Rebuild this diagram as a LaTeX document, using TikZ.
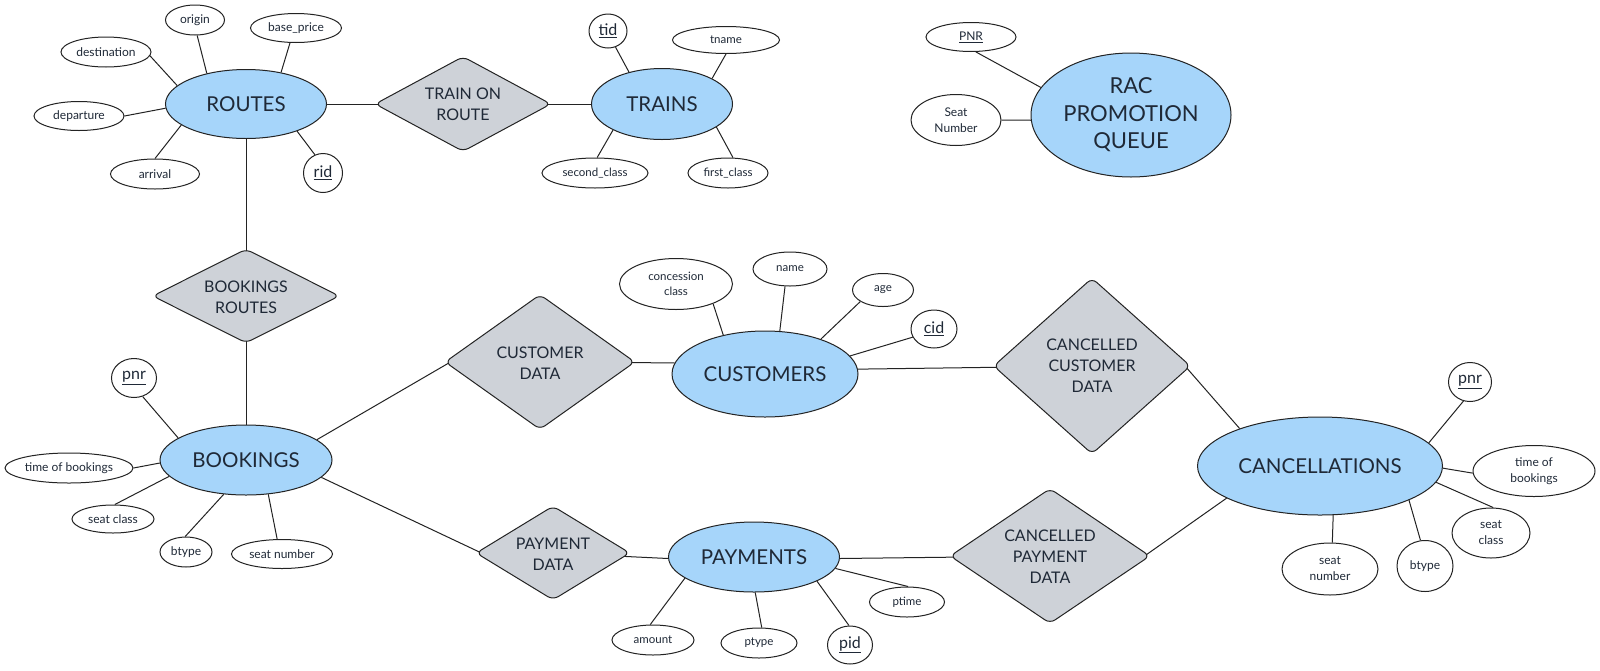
\documentclass[tikz,border=0pt]{standalone}
\usepackage{fontspec}
\setmainfont{Lato}
\usetikzlibrary{shapes.geometric,backgrounds}
\definecolor{entblue}{RGB}{166,213,250}
\definecolor{relgray}{RGB}{206,210,216}
\definecolor{txt}{RGB}{31,41,55}
\definecolor{edge}{RGB}{35,35,35}
\tikzset{
  sz/.style 2 args={minimum width=#1pt, minimum height=#2pt},
  ent/.style={ellipse, draw=edge, line width=1pt, fill=entblue, inner sep=0pt, text=txt, align=center, font=\fontsize{20.5}{24}\selectfont},
  rel/.style={diamond, draw=edge, line width=1pt, fill=relgray, inner sep=0pt, rounded corners=6pt},
  reltext/.style={align=center, text=txt, inner sep=0pt, font=\fontsize{16}{21}\selectfont},
  attr/.style={ellipse, draw=edge, line width=1pt, fill=white, inner sep=0pt, text=txt, align=center, font=\fontsize{11.5}{15}\selectfont},
  attrb/.style={attr, font=\fontsize{12}{16}\selectfont},
  keyattr/.style={attr, font=\fontsize{16}{18}\selectfont},
  conn/.style={draw=edge, line width=1pt},
}
\begin{document}
\begin{tikzpicture}[x=1pt,y=-1pt]
\begin{scope}[on background layer]
\fill[white] (0,0) rectangle (1600,670);
\end{scope}
\useasboundingbox (0,0) rectangle (1600,670);

% entities
\node[ent, sz={161}{69}] (routes) at (246,104) {ROUTES};
\node[ent, sz={141}{71}] (trains) at (662,104) {TRAINS};
\node[ent, sz={200}{124}, font=\fontsize{22}{27.5}\selectfont] (rac) at (1131,115) {RAC\\PROMOTION\\QUEUE};
\node[ent, sz={172}{70}] (bookings) at (246,460) {BOOKINGS};
\node[ent, sz={186}{86}] (customers) at (765,374) {CUSTOMERS};
\node[ent, sz={171}{70}] (payments) at (754,557) {PAYMENTS};
\node[ent, sz={245}{98}] (cancel) at (1320,466) {CANCELLATIONS};

% relationships
\node[rel, sz={176}{95}] (tor) at (463,104) {};
\node[reltext] (tor-t) at (463,104.5) {TRAIN ON\\ROUTE};
\node[rel, sz={187}{94}] (br) at (246,296) {};
\node[reltext] (br-t) at (246,297.5) {BOOKINGS\\ROUTES};
\node[rel, sz={190}{135}] (cd) at (540,362) {};
\node[reltext] (cd-t) at (540,363.5) {CUSTOMER\\DATA};
\node[rel, sz={154}{94}] (pd) at (553,553) {};
\node[reltext] (pd-t) at (553,554) {PAYMENT\\DATA};
\node[rel, sz={197}{176}] (ccd) at (1092,366) {};
\node[reltext] (ccd-t) at (1092,366) {CANCELLED\\CUSTOMER\\DATA};
\node[rel, sz={200}{135}] (cpd) at (1050,556) {};
\node[reltext] (cpd-t) at (1050,557) {CANCELLED\\PAYMENT\\DATA};

% routes attributes
\node[attrb, sz={59}{30}] (origin) at (195,20) {origin};
\node[attrb, sz={91}{29}] (baseprice) at (296,28) {base\_price};
\node[attrb, sz={90}{30}] (destination) at (106,52) {destination};
\node[attrb, sz={90}{29}] (departure) at (79,116) {departure};
\node[attrb, sz={89}{30}] (arrival) at (155,174) {arrival};
\node[keyattr, sz={39}{39}] (rid) at (323,173) {\underline{rid}};

% trains attributes
\node[keyattr, sz={38}{34}] (tid) at (608,31) {\underline{tid}};
\node[attr, sz={107}{27}] (tname) at (726,40) {tname};
\node[attr, sz={106}{30}] (secondclass) at (595,173) {second\_class};
\node[attr, sz={80}{30}] (firstclass) at (728,173) {first\_class};

% rac attributes
\node[attrb, sz={90}{29}] (pnrq) at (971,37) {\underline{PNR}};
\node[attrb, sz={90}{51}] (seatq) at (956,120) {Seat\\Number};

% bookings attributes
\node[keyattr, sz={45}{39}] (pnrb) at (134,378) {\underline{pnr}};
\node[attrb, sz={128}{30}] (timeb) at (69,468) {time of bookings};
\node[attrb, sz={82}{28}] (seatclassb) at (113,519) {seat class};
\node[attrb, sz={52}{30}] (btypeb) at (186,552) {btype};
\node[attrb, sz={101}{29}] (seatnumb) at (282,554) {seat number};

% customers attributes
\node[attr, sz={113}{51}] (concession) at (676,284) {concession\\class};
\node[attr, sz={74}{34}] (name) at (790,269) {name};
\node[attr, sz={61}{33}] (age) at (883,290) {age};
\node[keyattr, sz={46}{38}] (cid) at (934,329) {\underline{cid}};

% payments attributes
\node[attr, sz={82}{30}] (amount) at (653,640) {amount};
\node[attr, sz={76}{30}] (ptype) at (759,643) {ptype};
\node[keyattr, sz={45}{38}] (pid) at (850,645) {\underline{pid}};
\node[attr, sz={75}{30}] (ptime) at (907,602) {ptime};

% cancellations attributes
\node[keyattr, sz={43}{39}] (pnrc) at (1470,382) {\underline{pnr}};
\node[attrb, sz={122}{51}] (timec) at (1534,471) {time of\\bookings};
\node[attrb, sz={78}{50}] (seatclassc) at (1491,533) {seat\\class};
\node[attrb, sz={56}{51}] (btypec) at (1425,566) {btype};
\node[attrb, sz={96}{52}] (seatnumc) at (1330,569) {seat\\number};

\begin{scope}[on background layer]
% routes
\draw[conn] (routes.142) -- (origin.-82);
\draw[conn] (routes.42) -- (baseprice.-112);
\draw[conn] (routes.165) -- (destination.-5);
\draw[conn] (routes.183) -- (departure.0);
\draw[conn] (routes.198) -- (arrival.90);
\draw[conn] (routes.-28) -- (rid.114);
\draw[conn] (routes.east) -- (tor.center);
\draw[conn] (tor.center) -- (trains.west);
\draw[conn] (routes.south) -- (br.center);
\draw[conn] (br.center) -- (bookings.north);
% trains
\draw[conn] (trains.136) -- (tid.-65);
\draw[conn] (trains.27) -- (tname.-90);
\draw[conn] (trains.-152) -- (secondclass.82);
\draw[conn] (trains.-23) -- (firstclass.72);
% rac
\draw[conn] (rac.163) -- (pnrq.-72);
\draw[conn] (rac.183) -- (seatq.0);
% bookings
\draw[conn] (bookings.162) -- (pnrb.-65);
\draw[conn] (bookings.182) -- (timeb.0);
\draw[conn] (bookings.192) -- (seatclassb.83);
\draw[conn] (bookings.-123) -- (btypeb.93);
\draw[conn] (bookings.-57) -- (seatnumb.108);
\draw[conn] (bookings.16) -- ([xshift=6pt]cd.west);
\draw[conn] (bookings.-13) -- ([xshift=6pt]pd.west);
% customers
\draw[conn] (cd.center) -- (customers.173);
\draw[conn] (customers.137) -- (concession.-28);
\draw[conn] (customers.71) -- (name.-106);
\draw[conn] (customers.32) -- (age.-153);
\draw[conn] (customers.12) -- (cid.-159);
\draw[conn] (customers.3) -- (ccd.center);
\draw[conn] ([xshift=-6pt]ccd.east) -- (cancel.155);
% payments
\draw[conn] (pd.center) -- (payments.181);
\draw[conn] (payments.-163) -- (amount.100);
\draw[conn] (payments.-88) -- (ptype.80);
\draw[conn] (payments.-21) -- (pid.93);
\draw[conn] (payments.-8) -- (ptime.86);
\draw[conn] (payments.-1) -- (cpd.center);
\draw[conn] ([xshift=-6pt]cpd.east) -- (cancel.199);
% cancellations
\draw[conn] (cancel.12) -- (pnrc.-109);
\draw[conn] (cancel.-1) -- (timec.182);
\draw[conn] (cancel.-8) -- (seatclassc.85);
\draw[conn] (cancel.-21) -- (btypec.100);
\draw[conn] (cancel.-75) -- (seatnumc.85);
\end{scope}
\end{tikzpicture}
\end{document}
